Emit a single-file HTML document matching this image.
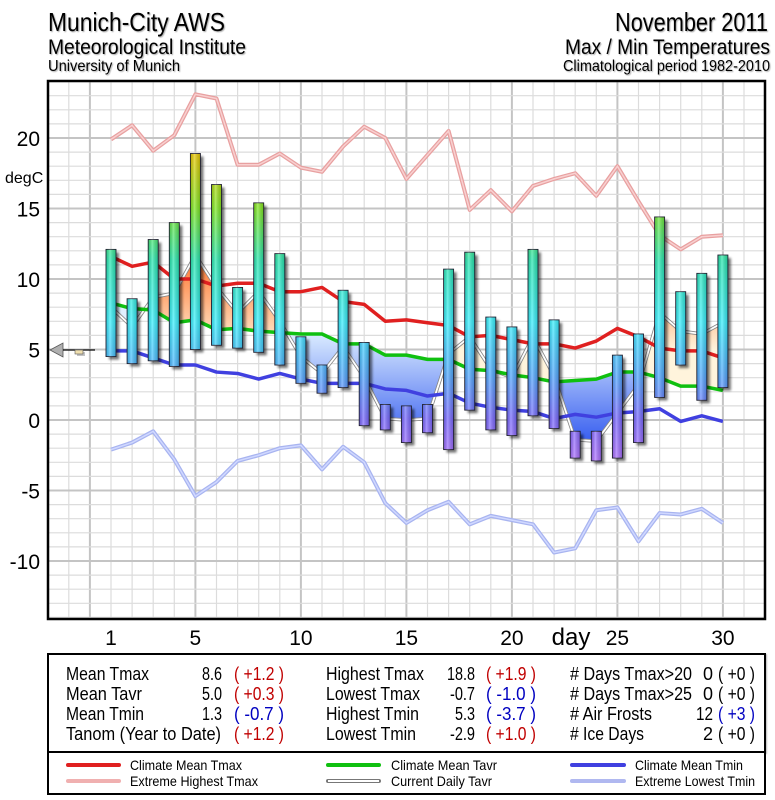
<!DOCTYPE html>
<html><head><meta charset="utf-8"><style>
html,body{margin:0;padding:0;background:#fff;}
svg{display:block;font-family:"Liberation Sans",sans-serif;}
</style></head><body>
<svg id="chart" width="775" height="800" viewBox="0 0 775 800">
<defs>
<linearGradient id="barGrad" gradientUnits="userSpaceOnUse" x1="0" y1="462" x2="0" y2="152">
<stop offset="0" stop-color="#b070ff"/><stop offset="0.14" stop-color="#7868ff"/>
<stop offset="0.28" stop-color="#50a8ff"/><stop offset="0.45" stop-color="#38f0ff"/>
<stop offset="0.65" stop-color="#28e8b0"/><stop offset="0.82" stop-color="#80e820"/>
<stop offset="1" stop-color="#f0c800"/></linearGradient>
<linearGradient id="barShade" x1="0" y1="0" x2="1" y2="0">
<stop offset="0" stop-color="#000" stop-opacity="0.12"/><stop offset="0.4" stop-color="#fff" stop-opacity="0.3"/>
<stop offset="1" stop-color="#000" stop-opacity="0.15"/></linearGradient>
<linearGradient id="warmGrad" gradientUnits="userSpaceOnUse" x1="0" y1="250" x2="0" y2="350">
<stop offset="0" stop-color="#ff6a20"/><stop offset="1" stop-color="#fff4dc"/></linearGradient>
<linearGradient id="coldGrad" gradientUnits="userSpaceOnUse" x1="0" y1="330" x2="0" y2="440">
<stop offset="0" stop-color="#e0f0ff"/><stop offset="1" stop-color="#3a60f0"/></linearGradient>
<filter id="sh" x="-50%" y="-50%" width="200%" height="200%"><feGaussianBlur stdDeviation="1.2"/></filter>
<clipPath id="plotClip"><rect x="48" y="81" width="717" height="538"/></clipPath>
</defs>
<g id="header" style="filter:drop-shadow(1px 1px 0.5px #aaa)">
<text x="48" y="31" font-size="26" textLength="177" lengthAdjust="spacingAndGlyphs">Munich-City AWS</text>
<text x="48" y="54" font-size="21" textLength="198" lengthAdjust="spacingAndGlyphs">Meteorological Institute</text>
<text x="48" y="71" font-size="16" textLength="132" lengthAdjust="spacingAndGlyphs">University of Munich</text>
<text x="768" y="31" font-size="26" text-anchor="end" textLength="153" lengthAdjust="spacingAndGlyphs">November 2011</text>
<text x="770" y="54" font-size="21" text-anchor="end" textLength="205" lengthAdjust="spacingAndGlyphs">Max / Min Temperatures</text>
<text x="770" y="71" font-size="16" text-anchor="end" textLength="207" lengthAdjust="spacingAndGlyphs">Climatological period 1982-2010</text>
</g>
<rect x="48" y="81" width="717" height="538" fill="#fff"/>
<g id="grid"></g>
<g id="plot" clip-path="url(#plotClip)"></g>
<rect x="48" y="81" width="717" height="538" fill="none" stroke="#000" stroke-width="2.5"/>
<g id="axes"></g>
<g>
<polygon points="50,350 63,343 63,357" fill="#b0b0b0" stroke="#555" stroke-width="0.8"/>
<line x1="63" y1="350" x2="95" y2="350" stroke="#000" stroke-width="1.3"/>
<rect x="77" y="352" width="8" height="4" fill="#888" opacity="0.5"/>
<rect x="75" y="350" width="8" height="4" fill="#f0e0b0" stroke="#555" stroke-width="0.6"/>
</g>
<g font-size="18" style="filter:drop-shadow(1px 1px 0.4px #bbb)">
<rect x="48" y="654" width="717" height="98" fill="#fff" stroke="#000" stroke-width="2"/>
<g>
<text x="66" y="680" textLength="83" lengthAdjust="spacingAndGlyphs">Mean Tmax</text><text x="222" y="680" text-anchor="end" textLength="20" lengthAdjust="spacingAndGlyphs">8.6</text><text x="234" y="680" fill="#c00000" textLength="50" lengthAdjust="spacingAndGlyphs">( +1.2 )</text>
<text x="66" y="700" textLength="76" lengthAdjust="spacingAndGlyphs">Mean Tavr</text><text x="222" y="700" text-anchor="end" textLength="20" lengthAdjust="spacingAndGlyphs">5.0</text><text x="234" y="700" fill="#c00000" textLength="50" lengthAdjust="spacingAndGlyphs">( +0.3 )</text>
<text x="66" y="720" textLength="78" lengthAdjust="spacingAndGlyphs">Mean Tmin</text><text x="222" y="720" text-anchor="end" textLength="20" lengthAdjust="spacingAndGlyphs">1.3</text><text x="234" y="720" fill="#0000c0" textLength="50" lengthAdjust="spacingAndGlyphs">( -0.7 )</text>
<text x="66" y="740" textLength="155" lengthAdjust="spacingAndGlyphs">Tanom (Year to Date)</text><text x="234" y="740" fill="#c00000" textLength="50" lengthAdjust="spacingAndGlyphs">( +1.2 )</text>
</g>
<g>
<text x="326" y="680" textLength="98" lengthAdjust="spacingAndGlyphs">Highest Tmax</text><text x="475" y="680" text-anchor="end" textLength="28" lengthAdjust="spacingAndGlyphs">18.8</text><text x="486" y="680" fill="#c00000" textLength="50" lengthAdjust="spacingAndGlyphs">( +1.9 )</text>
<text x="326" y="700" textLength="94" lengthAdjust="spacingAndGlyphs">Lowest Tmax</text><text x="475" y="700" text-anchor="end" textLength="25" lengthAdjust="spacingAndGlyphs">-0.7</text><text x="486" y="700" fill="#0000c0" textLength="50" lengthAdjust="spacingAndGlyphs">( -1.0 )</text>
<text x="326" y="720" textLength="93" lengthAdjust="spacingAndGlyphs">Highest Tmin</text><text x="475" y="720" text-anchor="end" textLength="20" lengthAdjust="spacingAndGlyphs">5.3</text><text x="486" y="720" fill="#0000c0" textLength="50" lengthAdjust="spacingAndGlyphs">( -3.7 )</text>
<text x="326" y="740" textLength="90" lengthAdjust="spacingAndGlyphs">Lowest Tmin</text><text x="475" y="740" text-anchor="end" textLength="25" lengthAdjust="spacingAndGlyphs">-2.9</text><text x="486" y="740" fill="#c00000" textLength="50" lengthAdjust="spacingAndGlyphs">( +1.0 )</text>
</g>
<g>
<text x="570" y="680" textLength="122" lengthAdjust="spacingAndGlyphs"># Days Tmax&gt;20</text><text x="713" y="680" text-anchor="end">0</text><text x="718" y="680" textLength="37" lengthAdjust="spacingAndGlyphs">( +0 )</text>
<text x="570" y="700" textLength="122" lengthAdjust="spacingAndGlyphs"># Days Tmax&gt;25</text><text x="713" y="700" text-anchor="end">0</text><text x="718" y="700" textLength="37" lengthAdjust="spacingAndGlyphs">( +0 )</text>
<text x="570" y="720" textLength="82" lengthAdjust="spacingAndGlyphs"># Air Frosts</text><text x="713" y="720" text-anchor="end" textLength="17" lengthAdjust="spacingAndGlyphs">12</text><text x="718" y="720" fill="#0000c0" textLength="37" lengthAdjust="spacingAndGlyphs">( +3 )</text>
<text x="570" y="740" textLength="74" lengthAdjust="spacingAndGlyphs"># Ice Days</text><text x="713" y="740" text-anchor="end">2</text><text x="718" y="740" textLength="37" lengthAdjust="spacingAndGlyphs">( +0 )</text>
</g>
</g>
<g font-size="14">
<rect x="48" y="752" width="717" height="42" fill="#fff" stroke="#000" stroke-width="2"/>
<g><line x1="68" y1="765" x2="119" y2="765" stroke="#e02020" stroke-width="4" stroke-linecap="round"/><text x="130" y="770" textLength="112" lengthAdjust="spacingAndGlyphs">Climate Mean Tmax</text></g>
<g><line x1="68" y1="781" x2="119" y2="781" stroke="#f0b0b0" stroke-width="4" stroke-linecap="round"/><text x="130" y="786" textLength="128" lengthAdjust="spacingAndGlyphs">Extreme Highest Tmax</text></g>
<g><line x1="328" y1="765" x2="379" y2="765" stroke="#10c010" stroke-width="4" stroke-linecap="round"/><text x="391" y="770" textLength="106" lengthAdjust="spacingAndGlyphs">Climate Mean Tavr</text></g>
<g><line x1="328" y1="781" x2="379" y2="781" stroke="#777" stroke-width="4" stroke-linecap="round"/><line x1="328" y1="781" x2="379" y2="781" stroke="#fff" stroke-width="2"/><text x="391" y="786" textLength="101" lengthAdjust="spacingAndGlyphs">Current Daily Tavr</text></g>
<g><line x1="572" y1="765" x2="624" y2="765" stroke="#4040e0" stroke-width="4" stroke-linecap="round"/><text x="635" y="770" textLength="108" lengthAdjust="spacingAndGlyphs">Climate Mean Tmin</text></g>
<g><line x1="572" y1="781" x2="624" y2="781" stroke="#b0b8f0" stroke-width="4" stroke-linecap="round"/><text x="635" y="786" textLength="120" lengthAdjust="spacingAndGlyphs">Extreme Lowest Tmin</text></g>
</g>
</svg>
<script>
const days = [1,2,3,4,5,6,7,8,9,10,11,12,13,14,15,16,17,18,19,20,21,22,23,24,25,26,27,28,29,30];
const tmax = [12.1,8.6,12.8,14.0,18.9,16.7,9.4,15.4,11.8,5.9,3.9,9.2,5.5,1.1,1.0,1.1,10.7,11.9,7.3,6.6,12.1,7.1,-0.8,-0.8,4.6,6.1,14.4,9.1,10.4,11.7];
const tmin = [4.5,4.0,4.2,3.8,5.0,5.3,5.1,4.8,3.9,2.6,1.9,2.3,-0.4,-0.7,-1.6,-0.9,-2.1,0.7,-0.7,-1.1,0.3,-0.6,-2.7,-2.9,-2.7,-1.6,1.6,3.9,1.4,2.3];
const tavr = [8.0,6.6,8.7,9.0,11.7,9.4,7.6,9.1,7.0,4.5,3.3,5.2,3.0,0.1,0.0,0.1,4.7,5.9,3.6,3.0,5.9,3.1,-1.4,-1.5,0.5,2.5,7.6,6.3,6.1,6.9];
const climTmax = [11.6,10.9,11.2,10.0,10.0,9.5,9.7,9.7,9.1,9.1,9.4,8.4,8.2,7.0,7.1,6.9,6.7,5.9,6.0,5.7,5.4,5.4,5.1,5.6,6.5,5.9,5.1,4.9,4.9,4.4];
const climTavr = [8.3,7.9,7.8,6.9,7.1,6.4,6.5,6.3,6.2,6.1,6.1,5.4,5.4,4.6,4.6,4.3,4.3,3.6,3.5,3.2,3.0,2.7,2.8,2.9,3.4,3.4,3.0,2.4,2.4,2.1];
const climTmin = [4.9,4.9,4.4,3.9,3.9,3.4,3.3,2.9,3.3,2.9,2.6,2.6,2.6,2.2,2.1,1.7,1.9,1.2,0.9,0.7,0.6,0.1,0.4,0.2,0.5,0.6,0.8,-0.1,0.3,-0.1];
const extHigh = [19.9,20.9,19.1,20.2,23.1,22.8,18.1,18.1,18.9,17.9,17.6,19.4,20.8,20.0,17.1,18.8,20.5,14.9,16.3,14.8,16.6,17.1,17.5,15.9,18.0,15.5,13.1,12.1,13.0,13.1];
const extLow = [-2.1,-1.6,-0.8,-2.8,-5.4,-4.4,-2.9,-2.5,-2.0,-1.8,-3.5,-1.9,-3.0,-5.9,-7.3,-6.4,-5.8,-7.4,-6.8,-7.1,-7.4,-9.4,-9.1,-6.4,-6.2,-8.6,-6.6,-6.7,-6.3,-7.3];
const yTicks = [20,15,10,5,0,-5,-10];
const xTicks = [1,5,10,15,20,25,30];

const NS='http://www.w3.org/2000/svg';
const X = d => 111 + (d-1)*21.1;
const Y = t => 420 - 14.1*t;
function mk(tag, attrs, parent){const e=document.createElementNS(NS,tag);for(const k in attrs)e.setAttribute(k,attrs[k]);parent.appendChild(e);return e;}
const grid=document.getElementById('grid'), plot=document.getElementById('plot'), axes=document.getElementById('axes');
for(let d=-2; d<=32; d++){
  const l=mk('line',{x1:X(d),x2:X(d),y1:81,y2:619,stroke:(d%5===0)?'#c4c4c4':'#dcdcdc','stroke-width':(d%5===0)?2:1.2},grid);
  
  
}
for(let t=-14; t<=24; t++){
  const l=mk('line',{x1:48,x2:765,y1:Y(t),y2:Y(t),stroke:(t%5===0)?'#c4c4c4':'#dcdcdc','stroke-width':(t%5===0)?2:1.2},grid);
  
  
}
function pts(arr){return arr.map((v,i)=>X(days[i])+','+Y(v)).join(' ');}
function line(arr,color,w,name){
  const s=mk('polyline',{points:pts(arr),fill:'none',stroke:color,'stroke-width':w,'stroke-linejoin':'round'},plot);
  
  
  return s;
}
line(extHigh,'#e8a0a0',4,'extreme-highest-tmax-line');
mk('polyline',{points:pts(extHigh),fill:'none',stroke:'#f8d0d0','stroke-width':1.5},plot);
line(extLow,'#a8b4f0',4,'extreme-lowest-tmin-line');
mk('polyline',{points:pts(extLow),fill:'none',stroke:'#d0d8ff','stroke-width':1.5},plot);
const areaPts = pts(tavr)+' '+climTavr.map((v,i)=>X(days[i])+','+Y(v)).reverse().join(' ');
const defs=document.querySelector('defs');
const clipA=mk('clipPath',{id:'aboveClip'},defs);
mk('polygon',{points:'0,0 0,'+Y(climTavr[0])+' '+pts(climTavr)+' 775,'+Y(climTavr[29])+' 775,0'},clipA);
const clipB=mk('clipPath',{id:'belowClip'},defs);
mk('polygon',{points:'0,800 0,'+Y(climTavr[0])+' '+pts(climTavr)+' 775,'+Y(climTavr[29])+' 775,800'},clipB);
const warm=mk('polygon',{points:areaPts,fill:'url(#warmGrad)','clip-path':'url(#aboveClip)'},plot);


const cold=mk('polygon',{points:areaPts,fill:'url(#coldGrad)','clip-path':'url(#belowClip)'},plot);


line(tavr,'#888',3.5,'current-daily-tavr-line');
mk('polyline',{points:pts(tavr),fill:'none',stroke:'#fff','stroke-width':1.8},plot);
line(climTmax,'#e02020',3.5,'climate-mean-tmax-line');
line(climTavr,'#10c010',3.5,'climate-mean-tavr-line');
line(climTmin,'#4040e0',3.5,'climate-mean-tmin-line');
days.forEach((d,i)=>{
  const g=mk('g',{},plot);
  
  
  const x=X(d)-5, y=Y(tmax[i]), h=Y(tmin[i])-Y(tmax[i]);
  mk('rect',{x:x+3,y:y+3,width:10,height:h,fill:'#000',opacity:0.55,filter:'url(#sh)'},g);
  mk('rect',{x:x,y:y,width:10,height:h,fill:'url(#barGrad)',stroke:'#223','stroke-width':0.9},g);
  mk('rect',{x:x,y:y,width:10,height:h,fill:'url(#barShade)'},g);
});
yTicks.forEach(t=>{
  const tx=mk('text',{x:40,y:Y(t)+8,'font-size':21,'text-anchor':'end'},axes);
  tx.textContent=t;
  
  
});
const unit=mk('text',{x:5,y:183,'font-size':16},axes);
unit.textContent='degC';


xTicks.forEach(d=>{
  const tx=mk('text',{x:X(d),y:645,'font-size':21,'text-anchor':'middle'},axes);
  tx.textContent=d;
  
  
});
const dl=mk('text',{x:X(22.8),y:645,'font-size':24,'text-anchor':'middle'},axes);
dl.textContent='day';


</script>
</body></html>
